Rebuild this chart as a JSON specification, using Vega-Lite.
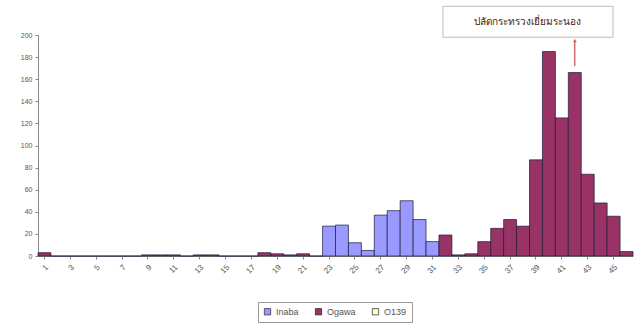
{
  "$schema": "https://vega.github.io/schema/vega-lite/v6.json",
  "width": 595,
  "height": 221,
  "autosize": {"type": "none"},
  "padding": {"left": 38, "top": 35, "right": 1, "bottom": 73},
  "background": "white",
  "config": {
    "view": {"stroke": null},
    "font": "Liberation Sans",
    "axis": {"labelFont": "Liberation Sans", "labelColor": "#555", "domainColor": "#888", "tickColor": "#888", "grid": false, "title": null}
  },
  "datasets": {
    "cases": [
      {"week": 1, "serotype": "Ogawa", "count": 3},
      {"week": 2, "serotype": "Ogawa", "count": 0},
      {"week": 3, "serotype": "Ogawa", "count": 0},
      {"week": 4, "serotype": "Ogawa", "count": 0},
      {"week": 5, "serotype": "Ogawa", "count": 0},
      {"week": 6, "serotype": "Ogawa", "count": 0},
      {"week": 7, "serotype": "Ogawa", "count": 0},
      {"week": 8, "serotype": "Ogawa", "count": 0},
      {"week": 9, "serotype": "Ogawa", "count": 1},
      {"week": 10, "serotype": "Ogawa", "count": 1},
      {"week": 11, "serotype": "Ogawa", "count": 1},
      {"week": 12, "serotype": "Ogawa", "count": 0},
      {"week": 13, "serotype": "Ogawa", "count": 1},
      {"week": 14, "serotype": "Ogawa", "count": 1},
      {"week": 15, "serotype": "Ogawa", "count": 0},
      {"week": 16, "serotype": "Ogawa", "count": 0},
      {"week": 17, "serotype": "Ogawa", "count": 0},
      {"week": 18, "serotype": "Ogawa", "count": 3},
      {"week": 19, "serotype": "Ogawa", "count": 2},
      {"week": 20, "serotype": "Ogawa", "count": 1},
      {"week": 21, "serotype": "Ogawa", "count": 2},
      {"week": 22, "serotype": "Ogawa", "count": 0},
      {"week": 23, "serotype": "Inaba", "count": 27},
      {"week": 24, "serotype": "Inaba", "count": 28},
      {"week": 25, "serotype": "Inaba", "count": 12},
      {"week": 26, "serotype": "Inaba", "count": 5},
      {"week": 27, "serotype": "Inaba", "count": 37},
      {"week": 28, "serotype": "Inaba", "count": 41},
      {"week": 29, "serotype": "Inaba", "count": 50},
      {"week": 30, "serotype": "Inaba", "count": 33},
      {"week": 31, "serotype": "Inaba", "count": 13},
      {"week": 32, "serotype": "Ogawa", "count": 19},
      {"week": 33, "serotype": "Ogawa", "count": 1},
      {"week": 34, "serotype": "Ogawa", "count": 2},
      {"week": 35, "serotype": "Ogawa", "count": 13},
      {"week": 36, "serotype": "Ogawa", "count": 25},
      {"week": 37, "serotype": "Ogawa", "count": 33},
      {"week": 38, "serotype": "Ogawa", "count": 27},
      {"week": 39, "serotype": "Ogawa", "count": 87},
      {"week": 40, "serotype": "Ogawa", "count": 185},
      {"week": 41, "serotype": "Ogawa", "count": 125},
      {"week": 42, "serotype": "Ogawa", "count": 166},
      {"week": 43, "serotype": "Ogawa", "count": 74},
      {"week": 44, "serotype": "Ogawa", "count": 48},
      {"week": 45, "serotype": "Ogawa", "count": 36},
      {"week": 46, "serotype": "Ogawa", "count": 4}
    ],
    "note": [
      {"week": 39, "y1": 198, "y2": 226, "ymid": 212, "label": "ปลัดกระทรวงเยี่ยมระนอง"}
    ],
    "arrow": [
      {"week": 42, "y1": 172, "y2": 195}
    ]
  },
  "layer": [
    {
      "data": {"name": "cases"},
      "mark": {"type": "bar", "stroke": "#1a1a3a", "strokeWidth": 0.7},
      "encoding": {
        "x": {
          "field": "week", "type": "ordinal",
          "scale": {"paddingInner": 0, "paddingOuter": 0},
          "axis": {"values": [1,3,5,7,9,11,13,15,17,19,21,23,25,27,29,31,33,35,37,39,41,43,45], "labelAngle": -45, "labelFontSize": 8, "tickSize": 3, "labelPadding": 4, "labelOverlap": false}
        },
        "y": {
          "field": "count", "type": "quantitative",
          "scale": {"domain": [0, 200], "nice": false},
          "axis": {"values": [0,20,40,60,80,100,120,140,160,180,200], "labelFontSize": 7, "tickSize": 3, "labelOverlap": false, "labelPadding": 3}
        },
        "color": {
          "field": "serotype", "type": "nominal",
          "scale": {"domain": ["Inaba", "Ogawa", "O139"], "range": ["#9999FF", "#993366", "#FFFFCC"]},
          "legend": {
            "title": null, "orient": "none", "direction": "horizontal",
            "legendX": 220, "legendY": 267,
            "strokeColor": "#999", "padding": 5,
            "symbolType": "square", "symbolSize": 40,
            "symbolStrokeColor": "#222", "symbolStrokeWidth": 0.7,
            "labelFontSize": 9, "labelColor": "#555", "columnPadding": 14
          }
        }
      }
    },
    {
      "data": {"name": "note"},
      "mark": {"type": "bar", "width": 170, "xOffset": -8, "fill": "white", "stroke": "#bbb", "strokeWidth": 1},
      "encoding": {
        "x": {"field": "week", "type": "ordinal",
          "axis": {"values": [1,3,5,7,9,11,13,15,17,19,21,23,25,27,29,31,33,35,37,39,41,43,45], "labelAngle": -45, "labelFontSize": 8, "tickSize": 3, "labelPadding": 4, "labelOverlap": false}},
        "y": {"field": "y1", "type": "quantitative",
          "axis": {"values": [0,20,40,60,80,100,120,140,160,180,200], "labelFontSize": 7, "tickSize": 3, "labelOverlap": false, "labelPadding": 3}},
        "y2": {"field": "y2"}
      }
    },
    {
      "data": {"name": "note"},
      "mark": {"type": "text", "xOffset": -8, "fontSize": 10, "color": "#3a2222"},
      "encoding": {
        "x": {"field": "week", "type": "ordinal",
          "axis": {"values": [1,3,5,7,9,11,13,15,17,19,21,23,25,27,29,31,33,35,37,39,41,43,45], "labelAngle": -45, "labelFontSize": 8, "tickSize": 3, "labelPadding": 4, "labelOverlap": false}},
        "y": {"field": "ymid", "type": "quantitative",
          "axis": {"values": [0,20,40,60,80,100,120,140,160,180,200], "labelFontSize": 7, "tickSize": 3, "labelOverlap": false, "labelPadding": 3}},
        "text": {"field": "label"}
      }
    },
    {
      "data": {"name": "arrow"},
      "mark": {"type": "rule", "color": "#d04a4a", "strokeWidth": 1.2},
      "encoding": {
        "x": {"field": "week", "type": "ordinal",
          "axis": {"values": [1,3,5,7,9,11,13,15,17,19,21,23,25,27,29,31,33,35,37,39,41,43,45], "labelAngle": -45, "labelFontSize": 8, "tickSize": 3, "labelPadding": 4, "labelOverlap": false}},
        "y": {"field": "y1", "type": "quantitative",
          "axis": {"values": [0,20,40,60,80,100,120,140,160,180,200], "labelFontSize": 7, "tickSize": 3, "labelOverlap": false, "labelPadding": 3}},
        "y2": {"field": "y2"}
      }
    },
    {
      "data": {"name": "arrow"},
      "mark": {"type": "point", "shape": "triangle-up", "size": 18, "filled": true, "color": "#d04a4a"},
      "encoding": {
        "x": {"field": "week", "type": "ordinal",
          "axis": {"values": [1,3,5,7,9,11,13,15,17,19,21,23,25,27,29,31,33,35,37,39,41,43,45], "labelAngle": -45, "labelFontSize": 8, "tickSize": 3, "labelPadding": 4, "labelOverlap": false}},
        "y": {"field": "y2", "type": "quantitative",
          "axis": {"values": [0,20,40,60,80,100,120,140,160,180,200], "labelFontSize": 7, "tickSize": 3, "labelOverlap": false, "labelPadding": 3}}
      }
    }
  ]
}
